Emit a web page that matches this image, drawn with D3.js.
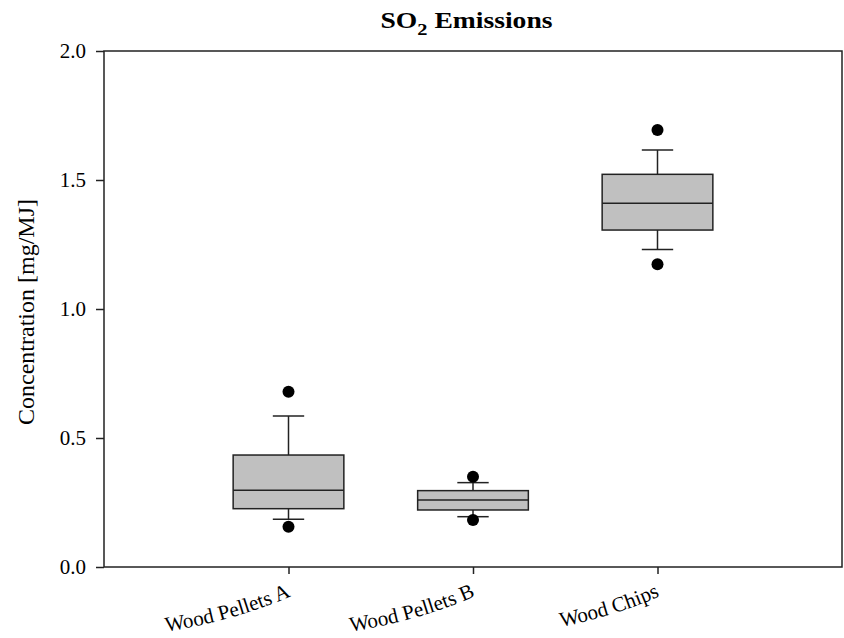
<!DOCTYPE html>
<html>
<head>
<meta charset="utf-8">
<script src="https://cdn.jsdelivr.net/npm/d3@7"></script>
<style>
  html, body { margin: 0; padding: 0; background: #fff; }
  svg { display: block; font-family: "Liberation Serif", "Times New Roman", serif; }
</style>
</head>
<body>
<svg id="chart" width="844" height="638"></svg>
<script>
// Fuel categories
const categories = ["Wood Pellets A", "Wood Pellets B", "Wood Chips"];
// Box statistics per fuel (mg/MJ)
const whiskerLow  = [0.185, 0.195, 1.231];
const q1          = [0.226, 0.221, 1.306];
const median      = [0.297, 0.260, 1.410];
const q3          = [0.434, 0.296, 1.522];
const whiskerHigh = [0.585, 0.327, 1.616];
const outlierLow  = [0.156, 0.182, 1.173];
const outlierHigh = [0.679, 0.350, 1.694];
// Y axis tick labels
const yTicks = [0.0, 0.5, 1.0, 1.5, 2.0];

const svg = d3.select("#chart");
const plotLeft = 104, plotRight = 842, plotTop = 51, plotBottom = 567;
const serif = "Liberation Serif, Times New Roman, serif";

const x = d3.scaleLinear().domain([0, categories.length + 1]).range([plotLeft, plotRight]);
const y = d3.scaleLinear().domain([0, 2]).range([plotBottom, plotTop]);

const boxW = 0.6, capW = 0.17;
const stroke = "#222";

// Curved baseline for the category labels, relative to each tick
svg.append("defs").append("path")
  .attr("id", "label-arc")
  .attr("d", "M-132,66 Q-57.6,55.5 2,29");

// Frame
svg.append("rect")
  .attr("x", plotLeft).attr("y", plotTop)
  .attr("width", plotRight - plotLeft).attr("height", plotBottom - plotTop)
  .attr("fill", "none").attr("stroke", stroke).attr("stroke-width", 1.5);

// Y axis
const yAxis = d3.axisLeft(y).tickValues(yTicks).tickFormat(d3.format(".1f")).tickSize(8).tickPadding(10);
const gy = svg.append("g").attr("transform", `translate(${plotLeft},0)`).call(yAxis);
gy.select(".domain").remove();
gy.selectAll(".tick line").attr("stroke", stroke).attr("stroke-width", 1.5);
gy.selectAll(".tick text").attr("font-size", 21).attr("fill", "#000").attr("font-family", serif);

// X axis
const xAxis = d3.axisBottom(x).tickValues(d3.range(1, categories.length + 1))
  .tickFormat(i => categories[i - 1]).tickSize(7).tickPadding(0);
const gx = svg.append("g").attr("transform", `translate(0,${plotBottom})`).call(xAxis);
gx.select(".domain").remove();
gx.selectAll(".tick line").attr("stroke", stroke).attr("stroke-width", 1.5);
gx.selectAll(".tick text").each(function () {
  const t = d3.select(this);
  const label = t.text();
  t.text(null)
    .attr("y", null).attr("dy", null)
    .attr("font-size", 21).attr("fill", "#000").attr("font-family", serif)
    .attr("text-anchor", "end");
  t.append("textPath")
    .attr("href", "#label-arc")
    .attr("startOffset", "100%")
    .text(label);
});

// Boxes
const data = categories.map((c, i) => ({
  pos: i + 1, wl: whiskerLow[i], q1: q1[i], med: median[i], q3: q3[i], wh: whiskerHigh[i],
  ol: outlierLow[i], oh: outlierHigh[i]
}));

const g = svg.append("g");
const box = g.selectAll("g.box").data(data).join("g").attr("class", "box");

// whisker stems
box.append("line")
  .attr("x1", d => x(d.pos)).attr("x2", d => x(d.pos))
  .attr("y1", d => y(d.q3)).attr("y2", d => y(d.wh))
  .attr("stroke", stroke).attr("stroke-width", 1.5);
box.append("line")
  .attr("x1", d => x(d.pos)).attr("x2", d => x(d.pos))
  .attr("y1", d => y(d.q1)).attr("y2", d => y(d.wl))
  .attr("stroke", stroke).attr("stroke-width", 1.5);
// caps
box.append("line")
  .attr("x1", d => x(d.pos - capW / 2)).attr("x2", d => x(d.pos + capW / 2))
  .attr("y1", d => y(d.wh)).attr("y2", d => y(d.wh))
  .attr("stroke", stroke).attr("stroke-width", 1.5);
box.append("line")
  .attr("x1", d => x(d.pos - capW / 2)).attr("x2", d => x(d.pos + capW / 2))
  .attr("y1", d => y(d.wl)).attr("y2", d => y(d.wl))
  .attr("stroke", stroke).attr("stroke-width", 1.5);
// box
box.append("rect")
  .attr("x", d => x(d.pos - boxW / 2))
  .attr("width", d => x(d.pos + boxW / 2) - x(d.pos - boxW / 2))
  .attr("y", d => y(d.q3))
  .attr("height", d => y(d.q1) - y(d.q3))
  .attr("fill", "#c0c0c0").attr("stroke", stroke).attr("stroke-width", 1.5);
// median
box.append("line")
  .attr("x1", d => x(d.pos - boxW / 2)).attr("x2", d => x(d.pos + boxW / 2))
  .attr("y1", d => y(d.med)).attr("y2", d => y(d.med))
  .attr("stroke", stroke).attr("stroke-width", 1.5);
// outliers
box.append("circle").attr("cx", d => x(d.pos)).attr("cy", d => y(d.oh)).attr("r", 6).attr("fill", "#000");
box.append("circle").attr("cx", d => x(d.pos)).attr("cy", d => y(d.ol)).attr("r", 6).attr("fill", "#000");

// Y axis title
svg.append("text")
  .attr("transform", `translate(34,${(plotTop + plotBottom) / 2 + 3}) rotate(-90)`)
  .attr("text-anchor", "middle")
  .attr("font-size", 24)
  .text("Concentration [mg/MJ]");

// Chart title with subscript
const title = svg.append("text")
  .attr("transform", "translate(466.5,28) scale(1.2,1)")
  .attr("text-anchor", "middle")
  .attr("font-size", 23).attr("font-weight", "bold");
title.append("tspan").text("SO");
title.append("tspan").attr("font-size", 17).attr("dy", 7).text("2");
title.append("tspan").attr("dy", -7).text(" Emissions");
</script>
</body>
</html>
